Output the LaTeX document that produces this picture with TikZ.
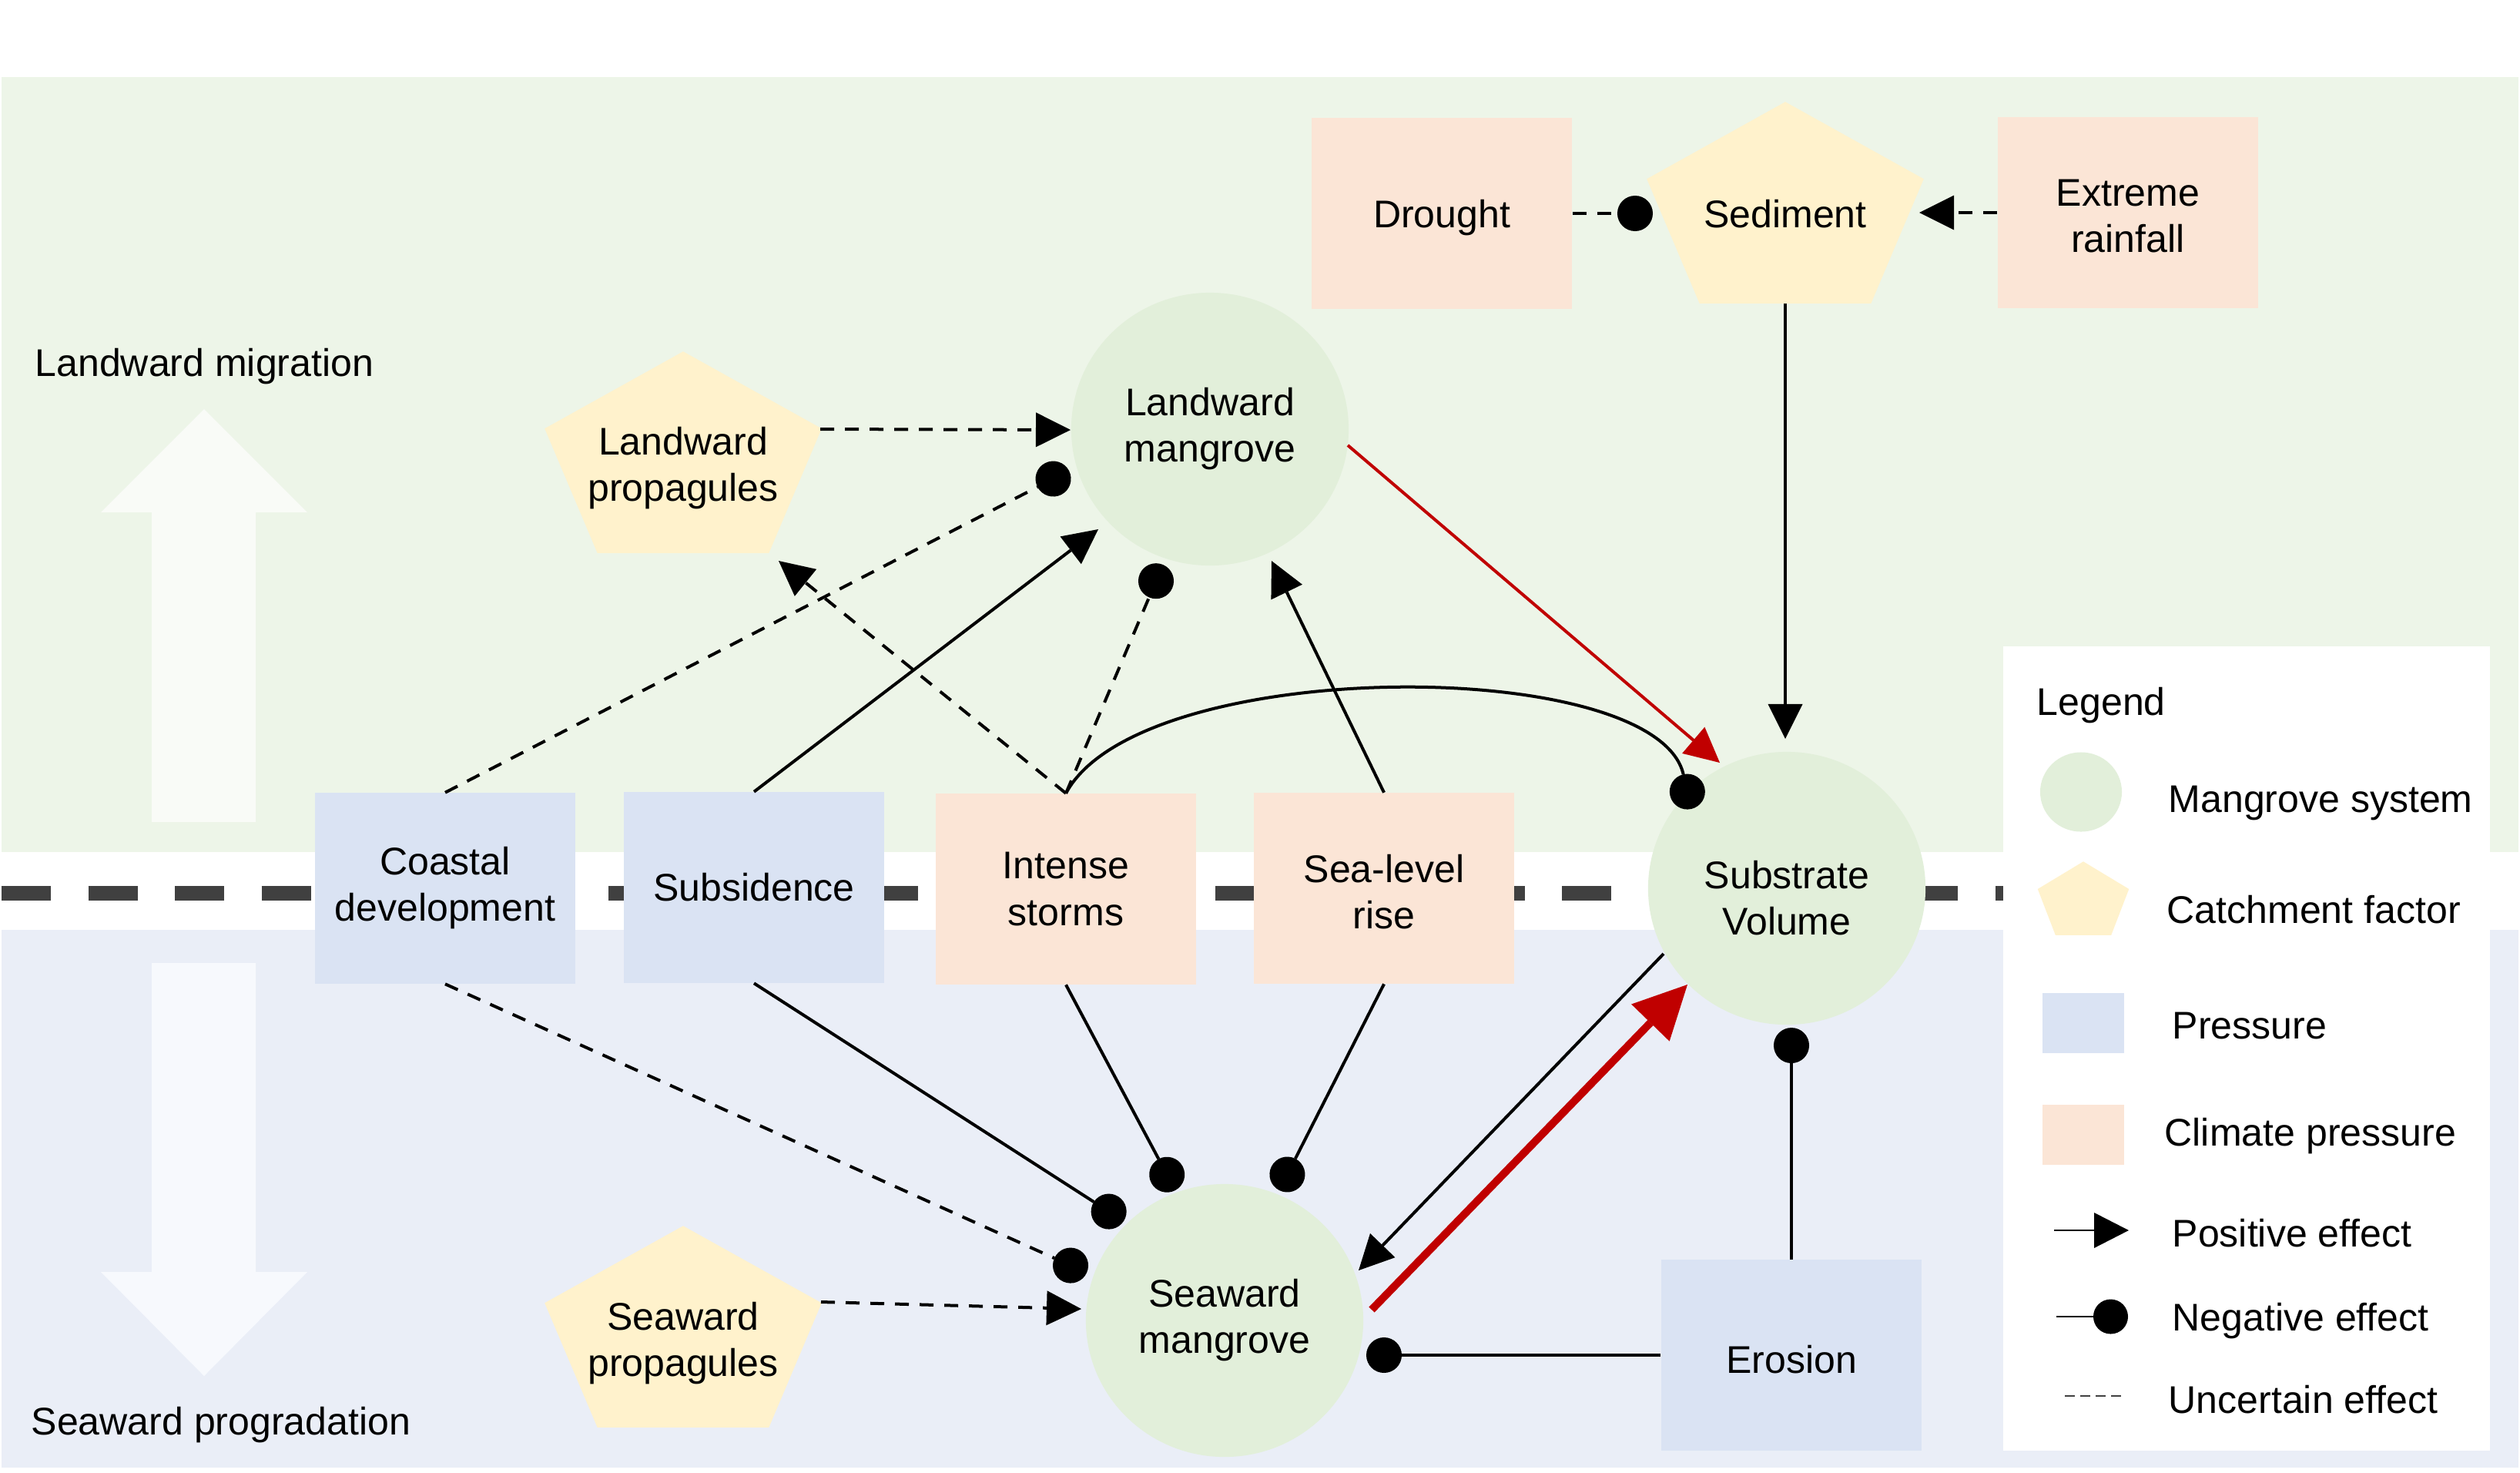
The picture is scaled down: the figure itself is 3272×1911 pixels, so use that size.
\documentclass[tikz,border=0pt]{standalone}
\usepackage{fontspec}
\setmainfont{Liberation Sans}
\usetikzlibrary{arrows.meta,shapes.geometric}
\definecolor{bgG}{HTML}{EDF5E8}
\definecolor{bgB}{HTML}{EAEEF7}
\definecolor{mangC}{HTML}{E2EFDA}
\definecolor{catC}{HTML}{FFF2CC}
\definecolor{presC}{HTML}{DAE3F3}
\definecolor{climC}{HTML}{FBE5D6}
\definecolor{arrG}{HTML}{F9FBF7}
\definecolor{arrB}{HTML}{F7F9FD}
\definecolor{redC}{HTML}{C00000}
\definecolor{divC}{HTML}{404040}
\newcommand{\pentfill}[3]{\fill[catC] (#1.north) -- ([yshift=#3]#1.west) -- ([xshift=#2]#1.south west) -- ([xshift=-#2]#1.south east) -- ([yshift=#3]#1.east) -- cycle;}
\begin{document}
\begin{tikzpicture}[x=0.01cm,y=-0.01cm,
  basetxt/.style={font=\fontsize{14.23pt}{17.07pt}\selectfont, align=center, inner sep=0pt},
  mang/.style={basetxt, ellipse, fill=mangC, minimum width=3.6cm, minimum height=3.54cm},
  pres/.style={basetxt, rectangle, fill=presC, minimum width=3.38cm, minimum height=2.47cm},
  clim/.style={basetxt, rectangle, fill=climC, minimum width=3.38cm, minimum height=2.47cm},
  pentbox/.style={rectangle, minimum width=3.58cm, minimum height=2.6cm, inner sep=0pt},
  lbl/.style={font=\fontsize{14.23pt}{17.07pt}\selectfont, inner sep=0pt, anchor=base west},
  link/.style={line width=0.04cm, black},
  unc/.style={link, dash pattern=on 0.18cm off 0.14cm},
  posfx/.style={-{Triangle[length=0.45cm,width=0.45cm,line width=0pt]}},
  negfx/.style={-{Circle[length=0.46cm,line width=0pt]}},
]
\useasboundingbox (0,0) rectangle (3272,1911);
\fill[white] (0,0) rectangle (3272,1911);
% background bands
\fill[bgG] (2,100) rectangle (3270,1106);
\fill[bgB] (2,1207) rectangle (3270,1905);
% divider
\draw[divC, line width=0.19cm, dash pattern=on 0.64cm off 0.485cm] (2,1159) -- (2601,1159);
% big arrows
\fill[arrG] (197,1067) -- (197,665) -- (131,665) -- (265,531) -- (399,665) -- (332,665) -- (332,1067) -- cycle;
\fill[arrB] (197,1250) -- (197,1651) -- (131,1651) -- (265,1786) -- (399,1651) -- (332,1651) -- (332,1250) -- cycle;
\node[lbl] (lmig) at (45,488) {Landward migration};
\node[lbl] (sprog) at (40,1862) {Seaward progradation};
% legend
\fill[white] (2601,839) rectangle (3233,1883);
\node[lbl] (lgt) at (2644,928) {Legend};
\node[ellipse, fill=mangC, minimum width=1.06cm, minimum height=1.03cm, inner sep=0pt] (lgm) at (2702,1028) {};
\node[lbl] (lgmt) at (2815,1054) {Mangrove system};
\node[rectangle, minimum width=1.17cm, minimum height=0.94cm, inner sep=0pt] (lgc) at (2705,1166) {};
\pentfill{lgc}{0.23cm}{0.12cm}
\node[lbl] (lgct) at (2813,1198) {Catchment factor};
\node[rectangle, fill=presC, minimum width=1.06cm, minimum height=0.78cm, inner sep=0pt] (lgp) at (2705,1328) {};
\node[lbl] (lgpt) at (2820,1348) {Pressure};
\node[rectangle, fill=climC, minimum width=1.06cm, minimum height=0.78cm, inner sep=0pt] (lgcl) at (2705,1473) {};
\node[lbl] (lgclt) at (2810,1487) {Climate pressure};
\coordinate (lgps) at (2667,1597); \coordinate (lgpe) at (2764,1597);
\draw[line width=0.025cm, -{Triangle[length=0.45cm,width=0.46cm,line width=0pt]}] (lgps) -- (lgpe);
\node[lbl] (lgpot) at (2820,1618) {Positive effect};
\coordinate (lgns) at (2670,1709); \coordinate (lgne) at (2763,1709);
\draw[line width=0.025cm, -{Circle[length=0.45cm,line width=0pt]}] (lgns) -- (lgne);
\node[lbl] (lgnet) at (2820,1727) {Negative effect};
\coordinate (lgus) at (2681,1812); \coordinate (lgue) at (2761,1812);
\draw[divC, line width=0.02cm, dash pattern=on 0.13cm off 0.07cm] (lgus) -- (lgue);
\node[lbl] (lgunt) at (2815,1834) {Uncertain effect};
% pentagons
\node[pentbox] (sed) at (2318,263) {};
\pentfill{sed}{0.684cm}{0.307cm}
\node[basetxt] (sedt) at (2318,278) {Sediment};
\node[pentbox] (lp) at (887,587) {};
\pentfill{lp}{0.684cm}{0.307cm}
\node[basetxt] (lpt) at (887,608) {Landward\\propagules};
\node[pentbox] (sp) at (887,1722) {};
\pentfill{sp}{0.684cm}{0.307cm}
\node[basetxt] (spt) at (887,1744) {Seaward\\propagules};
% main nodes
\node[clim, text depth=0pt] (dr) at (1872,277) {Drought};
\node[clim] (er) at (2763,276) {};
\node[basetxt] (ert) at (2763,281) {Extreme\\rainfall};
\node[mang] (lm) at (1571,557) {Landward\\mangrove};
\node[mang] (sm) at (1590,1714) {Seaward\\mangrove};
\node[mang] (sv) at (2320,1153) {};
\node[basetxt] (svt) at (2320,1166) {Substrate\\Volume};
\node[pres] (cd) at (578,1153) {Coastal\\development};
\node[pres] (sub) at (979,1152) {Subsidence};
\node[clim] (is) at (1384,1154) {Intense\\storms};
\node[clim] (slr) at (1797,1153) {};
\node[basetxt] (slrt) at (1797,1158) {Sea-level\\rise};
\node[pres] (ero) at (2326,1759) {};
\node[basetxt] (erot) at (2326,1765) {Erosion};
% connectors
\draw[unc, negfx] (dr.east) -- ([shift={(-172,14)}]sed.center);
\draw[unc, posfx] (er.west) -- ([shift={(174,13)}]sed.center);
\draw[link, posfx] (sed.south) -- ([shift={(-2,-194)}]sv.center);
\draw[link, redC, posfx] ([shift={(179,21)}]lm.center) -- ([shift={(-87,-163)}]sv.center);
\draw[redC, line width=0.1cm, -{Triangle[length=0.69cm,width=0.69cm,line width=0pt]}] ([shift={(191,-14)}]sm.center) -- ([shift={(-129,125)}]sv.center);
\draw[link, posfx] ([shift={(-160,85)}]sv.center) -- ([shift={(174,-65)}]sm.center);
\draw[link, negfx] (ero.north) -- ([shift={(6,181)}]sv.center);
\draw[link, negfx] (ero.west) -- ([shift={(184,45)}]sm.center);
\draw[link, negfx] (is.north) .. controls (1480,850) and (2150,850) .. ([shift={(-124,-103)}]sv.center);
\draw[unc, posfx] (is.north) -- ([shift={(124,141)}]lp.center);
\draw[unc, negfx] (is.north) -- ([shift={(-61,176)}]lm.center);
\draw[link, negfx] (is.south) -- ([shift={(-64,-169)}]sm.center);
\draw[link, posfx] (slr.north) -- ([shift={(80,171)}]lm.center);
\draw[link, negfx] (slr.south) -- ([shift={(71,-169)}]sm.center);
\draw[link, posfx] (sub.north) -- ([shift={(-145,130)}]lm.center);
\draw[link, negfx] (sub.south) -- ([shift={(-131,-129)}]sm.center);
\draw[unc, negfx] (cd.north) -- ([shift={(-183,54)}]lm.center);
\draw[unc, negfx] (cd.south) -- ([shift={(-179,-62)}]sm.center);
\draw[unc, posfx] ([shift={(178,-30)}]lp.center) -- ([shift={(-181,1)}]lm.center);
\draw[unc, posfx] ([shift={(179,-32)}]sp.center) -- ([shift={(-186,-15)}]sm.center);
\end{tikzpicture}
\end{document}
